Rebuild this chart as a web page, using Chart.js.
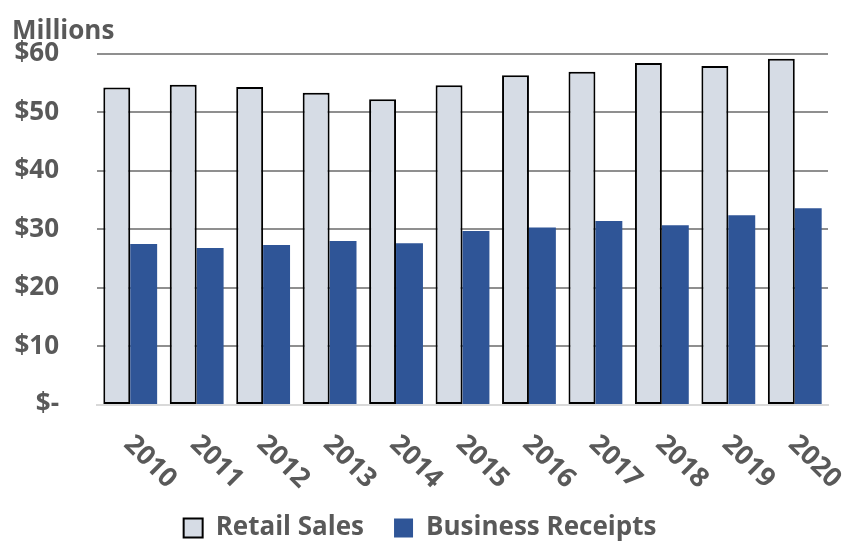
<!DOCTYPE html>
<html>
<head>
<meta charset="utf-8">
<script src="https://cdn.jsdelivr.net/npm/chart.js@4/dist/chart.umd.min.js"></script>
<style>
  body { margin: 0; background: #fff; }
  #wrap { width: 859px; height: 546px; }
</style>
</head>
<body>
<div id="wrap"><canvas id="salesChart"></canvas></div>
<script>
const years = ['2010', '2011', '2012', '2013', '2014', '2015', '2016', '2017', '2018', '2019', '2020'];
const retailSales = [54.2, 54.7, 54.3, 53.3, 52.2, 54.6, 56.3, 56.9, 58.4, 57.9, 59.1];
const businessReceipts = [27.5, 26.8, 27.3, 28.0, 27.6, 29.7, 30.3, 31.4, 30.7, 32.4, 33.6];
const yTickValues = [0, 10, 20, 30, 40, 50, 60];

const textGray = '#595959';
const fontFamily = '"Open Sans", Lato, sans-serif';

// year labels slanted downward to the right, placed from the x scale
const yearLabels = {
    id: 'yearLabels',
    afterDraw(chart) {
        const xScale = chart.scales.x;
        const ctx = chart.ctx;
        ctx.save();
        ctx.font = 'bold 27px ' + fontFamily;
        ctx.fillStyle = textGray;
        ctx.textAlign = 'left';
        ctx.textBaseline = 'middle';
        years.forEach(function (yr, i) {
            const px = xScale.getPixelForValue(i);
            ctx.save();
            ctx.translate(px - 2, xScale.top + 35);
            ctx.rotate(Math.PI / 4);
            ctx.fillText(yr, 0, 0);
            ctx.restore();
        });
        ctx.restore();
    }
};

const ctx = document.getElementById('salesChart').getContext('2d');
new Chart(ctx, {
    type: 'bar',
    data: {
        labels: years,
        datasets: [{
            label: 'Retail Sales',
            data: retailSales,
            backgroundColor: '#d6dce5',
            borderColor: '#000000',
            borderWidth: 2,
            borderSkipped: false
        }, {
            label: 'Business Receipts',
            data: businessReceipts,
            backgroundColor: '#2f5597',
            borderWidth: 0
        }]
    },
    options: {
        responsive: true,
        maintainAspectRatio: false,
        animation: false,
        layout: { padding: { left: 12, right: 31, top: -12, bottom: -5 } },
        datasets: {
            bar: { categoryPercentage: 0.81, barPercentage: 1.0 }
        },
        scales: {
            x: {
                grid: { display: false },
                border: { color: '#d9d9d9', width: 2 },
                ticks: { display: false },
                afterFit: function (scale) { scale.height = 80; }
            },
            y: {
                min: 0,
                max: 60,
                afterBuildTicks: function (scale) {
                    scale.ticks = yTickValues.map(function (v) { return { value: v }; });
                },
                afterFit: function (scale) { scale.width = 85; },
                border: { display: false },
                grid: {
                    drawTicks: false,
                    lineWidth: 2,
                    color: function (c) { return c.tick && c.tick.value === 0 ? '#d9d9d9' : '#8f8f8f'; }
                },
                ticks: {
                    padding: 38,
                    color: textGray,
                    font: { family: fontFamily, size: 26, weight: 'bold' },
                    callback: function (v) { return v === 0 ? '$-' : '$' + v; }
                }
            }
        },
        plugins: {
            title: {
                display: true,
                text: 'Millions',
                align: 'start',
                color: textGray,
                font: { family: fontFamily, size: 26, weight: 'bold' },
                padding: { top: 0, bottom: 6 }
            },
            legend: {
                position: 'bottom',
                labels: {
                    color: textGray,
                    boxWidth: 19,
                    boxHeight: 19,
                    padding: 30,
                    font: { family: fontFamily, size: 26, weight: 'bold' }
                }
            },
            tooltip: { enabled: false }
        }
    },
    plugins: [yearLabels]
});
</script>
</body>
</html>
